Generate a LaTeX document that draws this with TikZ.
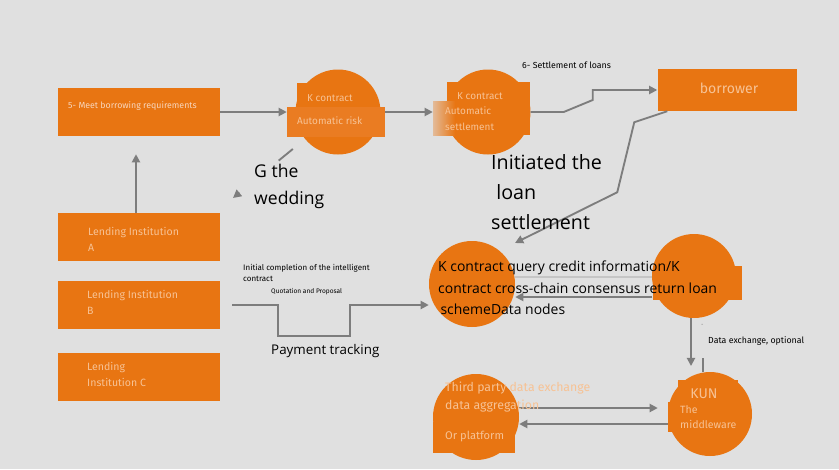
\documentclass[tikz,border=0pt]{standalone}
\usepackage{fontspec}
\setmainfont{Fira Sans}
\newfontfamily\opensans{Open Sans}
\usetikzlibrary{arrows.meta,calc}
\definecolor{bggray}{RGB}{224,224,224}
\definecolor{orng}{RGB}{232,117,18}
\definecolor{peach}{RGB}{247,194,148}
\definecolor{pale}{RGB}{248,214,188}
\definecolor{flowgray}{RGB}{125,125,125}
\newcommand{\fsz}[2]{\fontsize{#1}{#2}\selectfont}
\begin{document}
\begin{tikzpicture}[x=0.03cm,y=-0.03cm]
    \tikzstyle{every node}+=[inner sep=0pt]
    \tikzstyle{orangebox}=[fill=orng, minimum width=4.86cm, minimum height=1.44cm]
    \tikzstyle{disc}=[circle, fill=orng, minimum size=2.55cm]
    \tikzstyle{band}=[fill=orng]
    \tikzstyle{flow}=[draw=flowgray, line width=1.6pt, -{Triangle[length=7pt,width=7pt]}]
    \tikzstyle{inlabel}=[text=peach, align=left, anchor=west]
    \tikzstyle{note}=[text=black, align=left, anchor=west]
    \fill [bggray] (0,0) rectangle (839,469);
    \useasboundingbox (0,0) rectangle (839,469);
    \node [orangebox] (meet) at (139,112) {};
    \node [orangebox] (lendA) at (139,237) {};
    \node [orangebox] (lendB) at (139,305) {};
    \node [orangebox] (lendC) at (139,377) {};
    \node [orangebox, minimum width=4.17cm, minimum height=1.26cm] (borrower) at (727,90) {};
    \node [disc] (riskc) at (338,112) {};
    \node [band, minimum width=1.44cm, minimum height=0.72cm] (riskcap) at (321,95) {};
    \node [band, fill={rgb,255:red,234;green,124;blue,34}, minimum width=2.94cm, minimum height=0.9cm] (riskband) at (336,122) {};
    \node [disc] (settlec) at (488,112) {};
    \node [band, minimum width=2.49cm, minimum height=1.59cm] (settleband) at (488,108) {};
    \node [band, left color=orng!35!bggray, right color=orng, minimum width=0.66cm, minimum height=1.02cm] (settlefade) at (444,118) {};
    \node [disc, minimum size=2.58cm] (creditc) at (472,284) {};
    \node [disc, minimum size=2.52cm] (consc) at (694,276) {};
    \node [band, minimum width=2.67cm, minimum height=1.02cm] (consband) at (697,283) {};
    \node [disc, minimum size=2.52cm] (kunc) at (710,414) {};
    \node [band, minimum width=1.8cm, minimum height=0.6cm] (kuncap) at (708,390) {};
    \node [band, minimum width=0.96cm, minimum height=0.9cm] (kunside) at (684,417) {};
    \node [disc, minimum size=2.58cm] (thirdc) at (476,417) {};
    \node [band, minimum width=2.46cm, minimum height=0.93cm] (thirdband) at (474,437) {};
    \coordinate (settletip) at (515,243);
    \coordinate (wedtip) at (233,198);
    \coordinate (kunin) at (691,366);
    \coordinate (optstub) at (703,358);
    \draw [flow] (meet.east) -- (meet.east -| riskband.west);
    \draw [flow] (riskc.east -| riskband.east) -- (riskc.east -| settlefade.west);
    \draw [flow] (settlec.east) -- ++(33,0) -- ++(29,-12) |- (borrower.west);
    \draw [flow] ([xshift=0.3cm]borrower.south west) -- ++(-33,11) -- ++(-17,70) -- (settletip);
    \draw [flow, shorten >=0.54cm] (lendA.north -| 136,0) -- (meet.south -| 136,0);
    \draw [flowgray, line width=1.6pt] ($(riskc)!1.75cm!(wedtip)$) -- ($(riskc)!2.3cm!(wedtip)$);
    \draw [flow] ($(wedtip)!0.25cm!(riskc)$) -- (wedtip);
    \draw [flow] ([xshift=0.36cm]lendB.east) -- ++(46,0) -- ++(0,31) -- ++(72,0) -- ++(0,-31) -- (creditc.west |- lendB.east);
    \draw [flowgray!45, line width=1.6pt] (creditc.east |- 0,277) -- (consband.west |- 0,277);
    \draw [flow] (consband.west |- 0,297) -- (creditc.east |- 0,297);
    \draw [flow] (consc.south -| kunin) -- (kunin);
    \draw [flowgray, line width=1.6pt] (optstub) -- (kunc.north -| optstub);
    \draw [flow, shorten >=0.3cm] (thirdc.east |- 0,408) -- (kunc.west |- 0,408);
    \draw [flow] (kunc.west |- 0,424) -- (thirdc.east |- 0,424);
    \node [inlabel, text=pale, font=\fsz{7.5}{9}] (meettext) at (68,106) {5- Meet borrowing requirements};
    \node [inlabel, font=\fsz{8.5}{10}] (risktop) at (307,98) {K contract};
    \node [inlabel, font=\fsz{8.5}{10}] (riskbot) at (297,121) {Automatic risk};
    \node [inlabel, font=\fsz{8.5}{10}] (settletop) at (457,96) {K contract};
    \node [inlabel, font=\fsz{8.5}{13.6}] (settlebot) at (445,119) {Automatic\\settlement};
    \node [note, font=\fsz{7.5}{9}] (loanslabel) at (522,65) {6- Settlement of loans};
    \node [text=peach, font=\fsz{12}{14}] (borrowtext) at (729,88) {borrower};
    \node [note, font=\opensans\fsz{16.8}{25.5}] (inittext) at (491,192) {Initiated the\\ \ loan\\settlement};
    \node [note, font=\opensans\fsz{15}{23}] (wedtext) at (254,186) {G the\\wedding};
    \node [inlabel, font=\fsz{9}{13.6}] (lendAtext) at (88,239) {Lending Institution\\A};
    \node [inlabel, font=\fsz{9}{13.6}] (lendBtext) at (87,302) {Lending Institution\\B};
    \node [inlabel, font=\fsz{9}{13.6}] (lendCtext) at (87,374) {Lending\\Institution C};
    \node [note, font=\fsz{6.8}{10}] (initlabel) at (243,273) {Initial completion of the intelligent\\contract};
    \node [note, font=\fsz{5.6}{7}] (quotelabel) at (271,292) {Quotation and Proposal};
    \node [note, font=\opensans\fsz{11.4}{14}] (paylabel) at (271,351) {Payment tracking};
    \node [note, font=\opensans\fsz{11.9}{18.3}] (querytext) at (438,288) {K contract query credit information/K\\contract cross-chain consensus return loan\\ \,schemeData nodes};
    \node [note, text=flowgray, font=\fsz{5}{6}] (optick) at (701,325) {-};
    \node [note, font=\fsz{7.5}{9}] (optlabel) at (708,341) {Data exchange, optional};
    \node [text=peach, font=\fsz{12}{14}] (kuntext) at (704,394) {KUN};
    \node [inlabel, font=\fsz{9}{12.7}] (midtext) at (680,417) {The\\middleware};
    \node [inlabel, font=\fsz{10.5}{16}] (thirdtext) at (445,397) {Third party data exchange\\data aggregation};
    \node [inlabel, font=\fsz{9.5}{11}] (plattext) at (445,437) {Or platform};
\end{tikzpicture}
\end{document}
